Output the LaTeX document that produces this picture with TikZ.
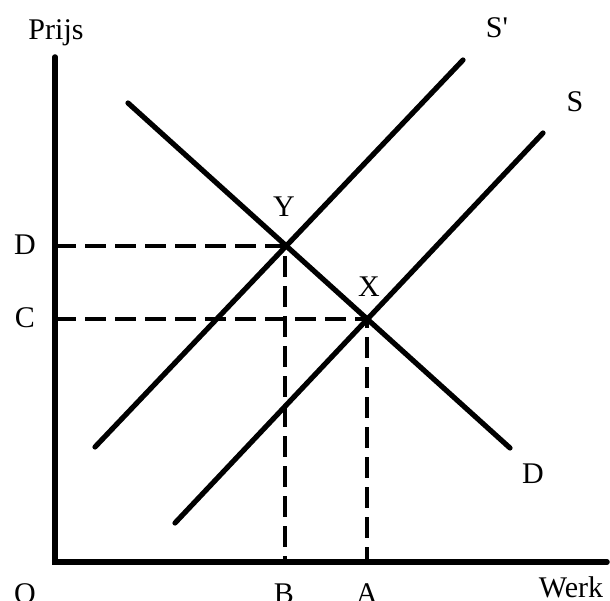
\documentclass[tikz,border=0pt]{standalone}
\usepackage{fontspec}
\setmainfont{Liberation Serif}
\begin{document}
\begin{tikzpicture}[x=1pt,y=-1pt,
  axis/.style={line width=5.5pt,line cap=round,line join=miter},
  curve/.style={line width=5.2pt,line cap=round},
  guide/.style={line width=3.2pt,dash pattern=on 21pt off 9pt},
  lbl/.style={inner sep=0pt,anchor=base,font=\fontsize{30}{33}\selectfont}]
\useasboundingbox (0,0) rectangle (610,601);
% axes
\coordinate (top) at (55,57);
\coordinate (O) at (55,562);
\coordinate (right) at (607,562);
\draw[axis] (top) -- (O) -- (right);
% curves
\coordinate (D1) at (128,103);
\coordinate (D2) at (510,448);
\coordinate (S1) at (175,523);
\coordinate (S2) at (543,133);
\coordinate (Sp1) at (95,447);
\coordinate (Sp2) at (463,60);
\coordinate (Y) at (285,246);
\coordinate (X) at (367,319);
\coordinate (yD) at (55,246);
\coordinate (yC) at (55,319);
\coordinate (xB) at (285,562);
\coordinate (xA) at (367,562);
% guides
\draw[guide] (yD) -- (Y) -- (xB);
\draw[guide] (yC) -- (X) -- (xA);
\draw[curve] (D1) -- (D2);
\draw[curve] (S1) -- (S2);
\draw[curve] (Sp1) -- (Sp2);
% labels
\node[lbl] (lPrijs) at (56,40) {Prijs};
\node[lbl] (lSp) at (497,38) {S\textquotesingle};
\node[lbl] (lS) at (575,112) {S};
\node[lbl] (lY) at (284,217) {Y};
\node[lbl] (lX) at (369,297) {X};
\node[lbl] (lDl) at (25,255) {D};
\node[lbl] (lC) at (25,328) {C};
\node[lbl] (lDr) at (533,483) {D};
\node[lbl] (lO) at (25,603) {O};
\node[lbl] (lB) at (284,603) {B};
\node[lbl] (lA) at (367,603) {A};
\node[lbl] (lW) at (571,597) {Werk};
\end{tikzpicture}
\end{document}
